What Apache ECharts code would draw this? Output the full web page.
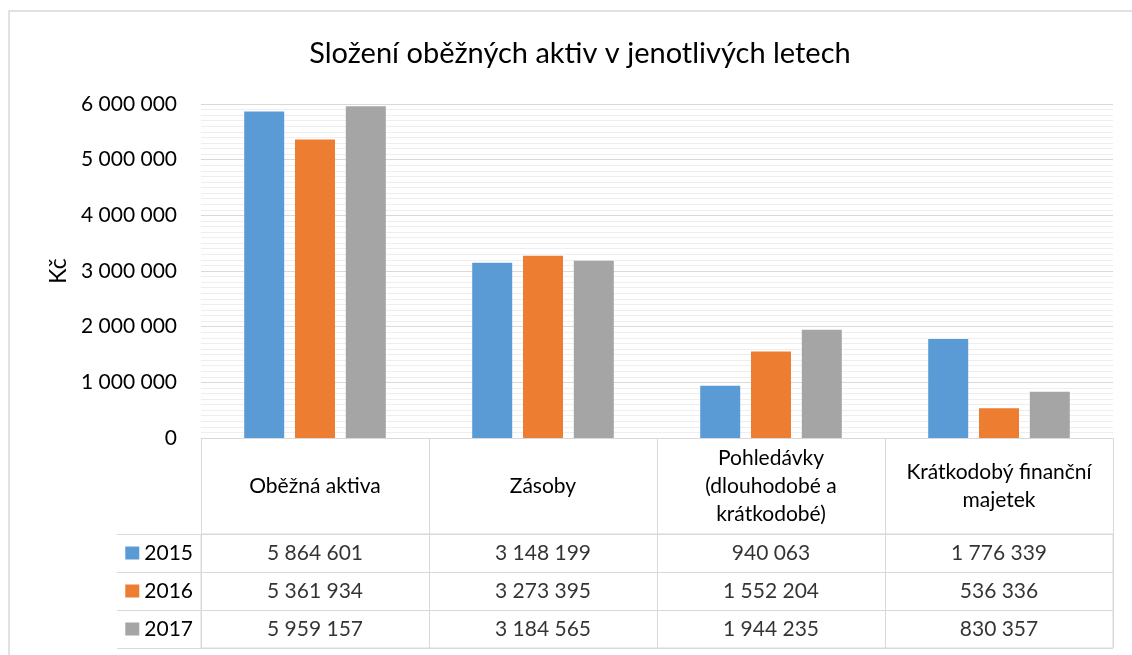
<!DOCTYPE html>
<html>
<head>
<meta charset="UTF-8">
<script type="text/javascript" src="https://cdn.jsdelivr.net/npm/echarts@6/dist/echarts.min.js"></script>
<title>Složení oběžných aktiv</title>
<style>
	html, body { margin: 0; padding: 0; background: #fff; }
	#main { width: 1132px; height: 655px; }
</style>
<script>
	// kategorie (popisky v hlavičce tabulky)
	var categories = ['Oběžná aktiva', 'Zásoby', 'Pohledávky\n(dlouhodobé a\nkrátkodobé)', 'Krátkodobý finanční\nmajetek'];
	var years = ['2015', '2016', '2017'];
	var v2015 = [5864601, 3148199, 940063, 1776339];
	var v2016 = [5361934, 3273395, 1552204, 536336];
	var v2017 = [5959157, 3184565, 1944235, 830357];
	var yTicks = [0, 1000000, 2000000, 3000000, 4000000, 5000000, 6000000];
	var colors = ['#5b9bd5', '#ed7d31', '#a5a5a5'];

	var FONT = 'Lato, "Open Sans", sans-serif';
	var LINE = '#d9d9d9';

	function fmt(v) {
		return String(v).replace(/\B(?=(\d{3})+(?!\d))/g, ' ');
	}

	window.onload = function() {
		var myChart = echarts.init(document.getElementById('main'));
		var values = [v2015, v2016, v2017];

		var series = [];
		for (var s = 0; s < years.length; s++) {
			series.push({
				name: years[s],
				type: 'bar',
				xAxisIndex: 0,
				yAxisIndex: 0,
				barWidth: 40,
				barGap: '27%',
				itemStyle: { color: colors[s] },
				data: values[s]
			});
		}
		// hodnoty v tabulce pod grafem
		for (var s = 0; s < years.length; s++) {
			var cells = [];
			for (var i = 0; i < categories.length; i++) {
				cells.push([i, s, values[s][i]]);
			}
			series.push({
				type: 'scatter',
				xAxisIndex: 1,
				yAxisIndex: 1,
				symbolSize: 0,
				silent: true,
				label: {
					show: true,
					position: 'inside',
					color: '#000',
					fontFamily: FONT,
					fontSize: 21,
					formatter: function(p) { return fmt(p.value[2]); }
				},
				data: cells
			});
		}

		var rich = { t: { fontFamily: FONT, fontSize: 21, color: '#000', padding: [0, 0, 0, 5] } };
		for (var s = 0; s < years.length; s++) {
			rich['s' + s] = { width: 14, height: 13, backgroundColor: colors[s] };
		}

		myChart.setOption({
			animation: false,
			title: {
				text: 'Složení oběžných aktiv v jenotlivých letech',
				left: 575,
				top: 34,
				textAlign: 'center',
				textStyle: { fontFamily: FONT, fontSize: 29, fontWeight: 'normal', color: '#000' }
			},
			graphic: [{
				type: 'rect',
				z: -10,
				shape: { x: 9, y: 11, width: 1200, height: 700 },
				style: { fill: 'none', stroke: LINE, lineWidth: 1.5 }
			}],
			grid: [
				{ left: 201, top: 104, right: 19, height: 334 },
				{ left: 201, top: 534, right: 19, height: 114, show: true, borderColor: LINE, borderWidth: 1 }
			],
			xAxis: [
				{
					type: 'category',
					gridIndex: 0,
					data: categories,
					axisLine: { lineStyle: { color: LINE, width: 1 } },
					axisTick: { show: true, length: 96, lineStyle: { color: LINE, width: 1 } },
					axisLabel: {
						interval: 0,
						margin: 48,
						verticalAlign: 'middle',
						fontFamily: FONT,
						fontSize: 21,
						lineHeight: 28,
						color: '#000'
					}
				},
				{
					type: 'category',
					gridIndex: 1,
					data: categories,
					axisLine: { show: false },
					axisTick: { show: false },
					axisLabel: { show: false },
					splitLine: { show: true, interval: 0, lineStyle: { color: LINE, width: 1 } }
				}
			],
			yAxis: [
				{
					type: 'value',
					gridIndex: 0,
					min: yTicks[0],
					max: yTicks[yTicks.length - 1],
					interval: yTicks[1] - yTicks[0],
					name: 'Kč',
					nameLocation: 'middle',
					nameRotate: 90,
					nameGap: 131,
					nameTextStyle: { fontFamily: FONT, fontSize: 23, color: '#000' },
					axisLine: { show: false },
					axisTick: { show: false },
					axisLabel: { margin: 24, fontFamily: FONT, fontSize: 21, color: '#000', formatter: fmt },
					splitLine: { lineStyle: { color: LINE, width: 1 } },
					minorTick: { show: false, splitNumber: 10 },
					minorSplitLine: { show: true, lineStyle: { color: '#eeeeee', width: 1 } }
				},
				{
					type: 'category',
					gridIndex: 1,
					inverse: true,
					data: years,
					axisLine: { show: true, lineStyle: { color: LINE, width: 1 } },
					axisTick: { show: true, length: 84, lineStyle: { color: LINE, width: 1 } },
					axisLabel: {
						margin: 8,
						formatter: function(v, i) { return '{s' + i + '|}{t|' + v + '}'; },
						rich: rich
					},
					splitLine: { show: true, interval: 0, lineStyle: { color: LINE, width: 1 } }
				},
				{
					type: 'category',
					gridIndex: 1,
					inverse: true,
					data: years,
					offset: 84,
					axisLine: { show: true, lineStyle: { color: LINE, width: 1 } },
					axisTick: { show: false },
					axisLabel: { show: false }
				}
			],
			series: series
		});
	};
</script>
</head>
<body>
<div id="main"></div>
</body>
</html>
